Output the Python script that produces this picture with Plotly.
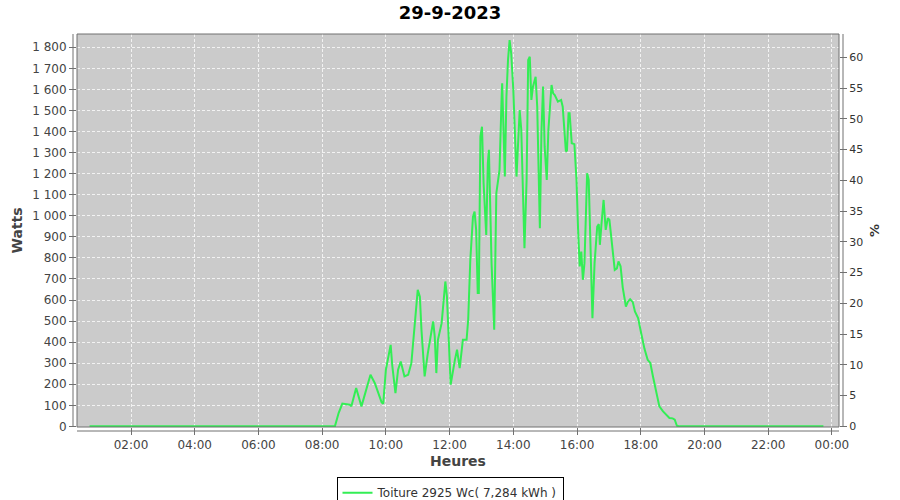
import plotly.graph_objects as go

DAY = "2023-09-29"
times = ["00:42", "08:24", "08:31", "08:38", "08:52", "08:55", "09:04", "09:14", "09:31", "09:39",
         "09:52", "09:55", "10:00", "10:04", "10:09", "10:12", "10:18", "10:23", "10:28", "10:35",
         "10:42", "10:48", "10:54", "11:00", "11:04", "11:07", "11:13", "11:19", "11:29", "11:32",
         "11:35", "11:38", "11:45", "11:52", "11:55", "12:02", "12:10", "12:14", "12:19", "12:25",
         "12:32", "12:35", "12:39", "12:44", "12:47", "12:50", "12:53", "12:55", "12:58", "13:01",
         "13:04", "13:09", "13:12", "13:14", "13:19", "13:24", "13:28", "13:31", "13:34", "13:38",
         "13:39", "13:44", "13:47", "13:50", "13:53", "13:56", "14:00", "14:06", "14:09", "14:12",
         "14:15", "14:21", "14:25", "14:28", "14:31", "14:34", "14:37", "14:42", "14:45", "14:50",
         "14:53", "14:56", "14:59", "15:03", "15:06", "15:12", "15:15", "15:18", "15:24", "15:30",
         "15:33", "15:39", "15:41", "15:44", "15:46", "15:50", "15:55", "15:59", "16:02", "16:05",
         "16:08", "16:11", "16:14", "16:19", "16:22", "16:24", "16:29", "16:33", "16:38", "16:41",
         "16:43", "16:46", "16:50", "16:54", "16:58", "17:01", "17:05", "17:11", "17:15", "17:18",
         "17:22", "17:26", "17:32", "17:36", "17:40", "17:45", "17:49", "17:55", "18:01", "18:07",
         "18:13", "18:18", "18:23", "18:29", "18:35", "18:42", "18:48", "18:54", "19:00", "19:04",
         "19:08", "19:13", "23:44"]
watts = [0, 0, 63, 108, 103, 95, 182, 95, 245, 206,
         114, 108, 269, 316, 387, 290, 158, 269, 308, 237,
         245, 300, 474, 648, 616, 458, 237, 348, 498, 427,
         253, 411, 490, 688, 616, 198, 316, 364, 277, 411,
         411, 506, 791, 996, 1020, 933, 633, 633, 1376, 1423,
         1155, 909, 1249, 1313, 775, 459, 1107, 1170, 1218, 1565,
         1629, 1186, 1565, 1740, 1834, 1771, 1597, 1186, 1376, 1502,
         1407, 846, 1170, 1740, 1755, 1550, 1613, 1660, 1518, 941,
         1400, 1613, 1328, 1170, 1407, 1621, 1581, 1573, 1542, 1550,
         1518, 1305, 1310, 1487, 1487, 1344, 1340, 1170, 933, 759,
         830, 696, 775, 1202, 1170, 965, 514, 775, 949, 960,
         862, 960, 1075, 933, 989, 980, 870, 743, 750, 783,
         760, 660, 569, 593, 604, 590, 546, 514, 440, 368,
         316, 301, 237, 158, 95, 71, 55, 40, 38, 32,
         3, 0, 0]

series_name = "Toiture 2925 Wc( 7,284 kWh )"
title_text = "29-9-2023"

x = [f"{DAY} {t}" for t in times]

FONT = "DejaVu Sans"
GRAY = "#444444"
LINE_GRAY = "#707070"

fig = go.Figure()
fig.add_trace(go.Scatter(x=x, y=watts, mode="lines", name=series_name,
                         line=dict(color="#33ee55", width=2)))
fig.add_trace(go.Scatter(x=[x[0]], y=[None], yaxis="y2", mode="lines",
                         showlegend=False, hoverinfo="skip"))

grid = dict(showgrid=True, gridcolor="rgba(255,255,255,0.75)", gridwidth=1, griddash="3px,2px")

fig.update_layout(
    width=900, height=500,
    margin=dict(l=77, r=61, t=34, b=73, autoexpand=False),
    paper_bgcolor="white", plot_bgcolor="#cbcbcb",
    separators=", ",
    font=dict(family=FONT, size=12, color=GRAY),
    title=dict(text=title_text, x=0.5, xref="container", y=1 - 13 / 500, yref="container",
               yanchor="middle", xanchor="center",
               font=dict(family=FONT, size=18, color="black", weight="bold")),
    xaxis=dict(type="date", range=["2023-09-29 00:18:18", "2023-09-30 00:13:20"],
               tick0="2023-09-29 02:00", dtick=2 * 3600 * 1000, tickformat="%H:%M",
               ticks="outside", ticklen=7, tickcolor=LINE_GRAY, showline=False, zeroline=False,
               automargin=False,
               tickfont=dict(family=FONT, size=12, color=GRAY),
               title=dict(text="Heures", standoff=4,
                          font=dict(family=FONT, size=14, color=GRAY, weight="bold")),
               **grid),
    yaxis=dict(range=[-3, 1863], dtick=100, tick0=0, separatethousands=True,
               ticks="outside", ticklen=7, tickcolor=LINE_GRAY, showline=False, zeroline=False,
               automargin=False,
               tickfont=dict(family=FONT, size=12, color=GRAY),
               title=dict(text="Watts", standoff=6,
                          font=dict(family=FONT, size=14, color=GRAY, weight="bold")),
               **grid),
    yaxis2=dict(overlaying="y", side="right", range=[-0.1, 63.8], dtick=5, tick0=0,
                ticks="outside", ticklen=7, tickcolor=LINE_GRAY, showline=False, zeroline=False,
                showgrid=False, automargin=False,
                tickfont=dict(family=FONT, size=11, color="#333333"),
                title=dict(text="%", standoff=7,
                           font=dict(family=FONT, size=13, color="#333333", weight="bold"))),
    showlegend=True,
    legend=dict(orientation="h", xref="container", yref="container", x=0.5, xanchor="center",
                y=1 - 477.3 / 500, yanchor="top", bordercolor="black", borderwidth=1,
                bgcolor="white", font=dict(family=FONT, size=12, color="#333333"),
                itemwidth=30, tracegroupgap=0),
    shapes=[
        dict(type="rect", xref="paper", yref="paper", x0=0, x1=1, y0=0, y1=1,
             line=dict(color=LINE_GRAY, width=1), layer="above"),
        dict(type="line", xref="paper", yref="paper", x0=-4 / 762, x1=-4 / 762, y0=0, y1=1,
             line=dict(color=LINE_GRAY, width=1)),
        dict(type="line", xref="paper", yref="paper", x0=1 + 4 / 762, x1=1 + 4 / 762, y0=0, y1=1,
             line=dict(color=LINE_GRAY, width=1)),
        dict(type="line", xref="paper", yref="paper", x0=0, x1=1, y0=-4 / 393, y1=-4 / 393,
             line=dict(color=LINE_GRAY, width=1)),
    ],
)

fig.write_html("out.html", config={"displayModeBar": False},
               post_script="document.body.style.margin='0';document.body.style.overflow='hidden';")
